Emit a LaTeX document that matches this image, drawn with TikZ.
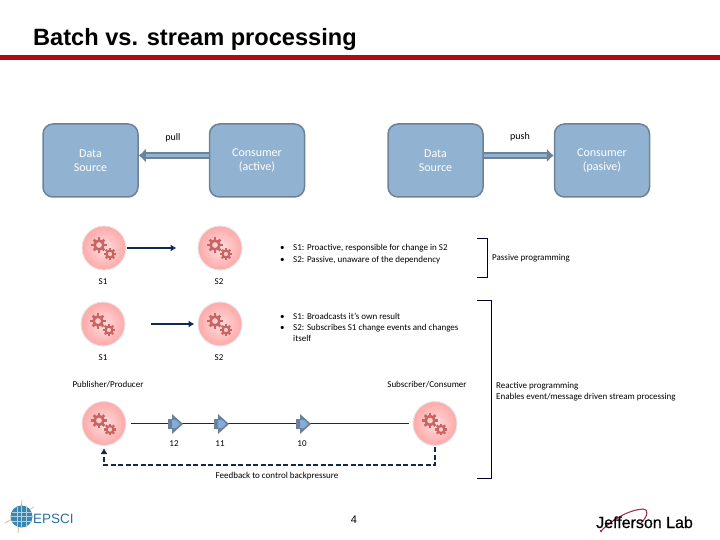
\documentclass[tikz,border=0pt]{standalone}
\usepackage{fontspec}
\setmainfont{Carlito}
\newfontfamily\arialf{Liberation Sans}
\usetikzlibrary{arrows.meta,calc}
\definecolor{boxfill}{HTML}{92B2D2}
\definecolor{boxline}{HTML}{6C8299}
\definecolor{navy}{HTML}{12294F}
\definecolor{gearred}{HTML}{C96464}
\definecolor{barred}{HTML}{AE0C12}
\definecolor{markfill}{HTML}{84ACDA}
\definecolor{epsblue}{HTML}{2C6F9B}
\definecolor{globeblue}{HTML}{3A86B0}
\definecolor{rayor}{HTML}{E9BE94}
\definecolor{swoosh}{HTML}{A03050}
\newcommand{\fs}[1]{\fontsize{#1}{#1}\selectfont}
\newcommand{\onegear}[3]{% x y scale
  \begin{scope}[shift={(#1,#2)},scale=#3]
    \draw[gearred,line width=#3*2.6pt] (0,0) circle (4.4);
    \foreach \a in {0,45,...,315}
      \draw[gearred,line width=#3*2.8pt] (\a:5) -- (\a:7.6);
  \end{scope}}
\newcommand{\gearball}[3]{%
  \node[ball] (#1) at (#2,#3) {};
  \onegear{#2-5}{#3+3}{1}
  \onegear{#2+6}{#3-6}{0.78}}
\newcommand{\tickmark}[3]{%
  \coordinate (#1) at (#2,#3);
  \begin{scope}[shift={(#2,#3)}]
    \fill[boxline] (-7,5) -- (-3,5) -- (-3,10) -- (8,0) -- (-3,-10) -- (-3,-5) -- (-7,-5) -- cycle;
    \fill[markfill] (-3,4) -- (1,4) -- (5,0) -- (1,-4) -- (-3,-4) -- cycle;
  \end{scope}}
\tikzset{
  x=1pt,y=1pt,
  blockbox/.style={draw=boxline,fill=boxfill,line width=1.5pt,rounded corners=10pt,minimum width=95pt,minimum height=73pt,inner sep=0pt,text=white,align=center,font=\fs{12}},
  ball/.style={circle,minimum size=44pt,inner sep=0pt,draw=black!10,line width=1pt,inner color=red!13!white,outer color=red!34!white},
  fatarrow/.style={double=boxfill,double distance=3.2pt,draw=boxline,line width=1.7pt,-{Latex[length=7pt,width=14pt]}},
  small/.style={font=\fs{9},text=black,inner sep=0pt},
  midlabel/.style={font=\fs{10},text=black,inner sep=0pt},
  flow/.style={navy,line width=1.6pt,-{Latex[length=6pt,width=7pt]}},
  brk/.style={black!85!blue,line width=0.9pt},
}
\begin{document}
\begin{tikzpicture}
\useasboundingbox (0,0) rectangle (720,-540);
% title
\node[anchor=base west,inner sep=0pt,font=\arialf\bfseries\fs{23.6}] (title) at (33,-46) {Batch vs. stream processing};
\fill[barred] (0,-55) rectangle (720,-60.5);
% top boxes
\node[blockbox,text depth=0pt] (ds1) at (90.5,-160.5) {Data\\[2pt]Source};
\node[blockbox] (c1) at (257,-160.5) {Consumer\\[2pt](active)};
\node[blockbox,text depth=0pt] (ds2) at (435.5,-160.5) {Data\\[2pt]Source};
\node[blockbox] (c2) at (602,-160.5) {Consumer\\[2pt](pasive)};
\draw[fatarrow] ([yshift=5pt]c1.west) -- ([yshift=5pt]ds1.east);
\draw[fatarrow] ([yshift=5pt]ds2.east) -- ([yshift=5pt]c2.west);
\node[midlabel] (pull) at (173,-138) {pull};
\node[midlabel] (push) at (520,-137) {push};
% row 1
\gearball{a1}{104}{-248}
\gearball{a2}{220}{-248}
\draw[flow,shorten >=21pt] (a1) -- (a2);
\node[small] (a1l) at (103,-281.5) {S1};
\node[small] (a2l) at (219,-281.5) {S2};
% row 2
\gearball{b1}{103}{-324}
\gearball{b2}{220}{-324}
\draw[flow,shorten <=25pt,shorten >=3pt] (b1) -- (b2);
\node[small] (b1l) at (103,-358) {S1};
\node[small] (b2l) at (219,-358) {S2};
% bullets
\node[small,anchor=base west] (u1) at (280,-250) {•};
\node[small,anchor=base west] (u2) at (280,-262) {•};
\node[small,anchor=base west] (t1) at (293,-250) {S1: Proactive, responsible for change in S2};
\node[small,anchor=base west] (t2) at (293,-262) {S2: Passive, unaware of the dependency};
\node[small,anchor=base west] (v1) at (280,-319) {•};
\node[small,anchor=base west] (v2) at (280,-330) {•};
\node[small,anchor=base west] (w1) at (293,-319) {S1: Broadcasts it’s own result};
\node[small,anchor=base west] (w2) at (293,-330) {S2: Subscribes S1 change events and changes};
\node[small,anchor=base west] (w3) at (293,-341) {itself};
% brackets
\draw[brk] (477,-238) -- (487,-238) -- (487,-277) -- (477,-277);
\draw[brk] (477,-300) -- (491,-300) -- (491,-478) -- (477,-478);
\node[small,anchor=base west] (pp) at (492,-260) {Passive programming};
\node[small,anchor=base west] (rp) at (496,-388) {Reactive programming};
\node[small,anchor=base west] (en) at (496,-399) {Enables event/message driven stream processing};
% stream
\node[small] (pub) at (108,-384.5) {Publisher/Producer};
\node[small] (sub) at (427,-384.5) {Subscriber/Consumer};
\gearball{p}{104}{-423.5}
\gearball{q}{435}{-423.5}
\draw[navy,line width=0.9pt,shorten <=4pt,shorten >=4pt] (p) -- (q);
\tickmark{m1}{175}{-424}
\tickmark{m2}{221}{-424}
\tickmark{m3}{303}{-424}
\node[small] (n1) at (174,-443.5) {12};
\node[small] (n2) at (220,-443.5) {11};
\node[small] (n3) at (302,-443.5) {10};
\draw[navy,line width=1.6pt,dash pattern=on 5pt off 2.5pt,-{Latex[length=6pt,width=7pt]},shorten <=1pt,shorten >=2pt] (q.south) -- (q.south |- 0,-465) -- (p.south |- 0,-465) -- (p.south);
\node[small] (fb) at (277,-476.5) {Feedback to control backpressure};
% page number
\node[inner sep=0pt,font=\arialf\fs{11}] (pg) at (354,-520) {4};
% EPSCI logo
\begin{scope}
  \draw[rayor,line width=0.9pt] (5,-523) -- (34,-507);
  \draw[rayor,line width=0.9pt] (22,-500) -- (18,-533);
  \fill[globeblue] (21.5,-516.5) circle (11);
  \draw[white!60!globeblue,line width=0.4pt] (11.5,-512) -- (31.5,-512) (11,-516.5) -- (32,-516.5) (11.5,-521) -- (31.5,-521) (17,-506.5) -- (17,-526.5) (21.5,-506) -- (21.5,-527) (26,-506.5) -- (26,-526.5);
\end{scope}
\node[anchor=base west,inner sep=0pt,font=\arialf\fs{13.5},text=epsblue] (eps) at (33,-523) {EPSCI};
% Jefferson Lab logo
\draw[swoosh,line width=1.1pt] (601,-531) .. controls (612,-520) and (628,-510) .. (643,-509) .. controls (649,-509) and (648,-516) .. (641,-523);
\fill[swoosh] (601,-531) circle (1.4);
\node[anchor=base west,inner sep=0pt,font=\arialf\fs{16}] (jl) at (596,-528) {\addfontfeature{FakeBold=0.5}Jefferson Lab};
\end{tikzpicture}
\end{document}
